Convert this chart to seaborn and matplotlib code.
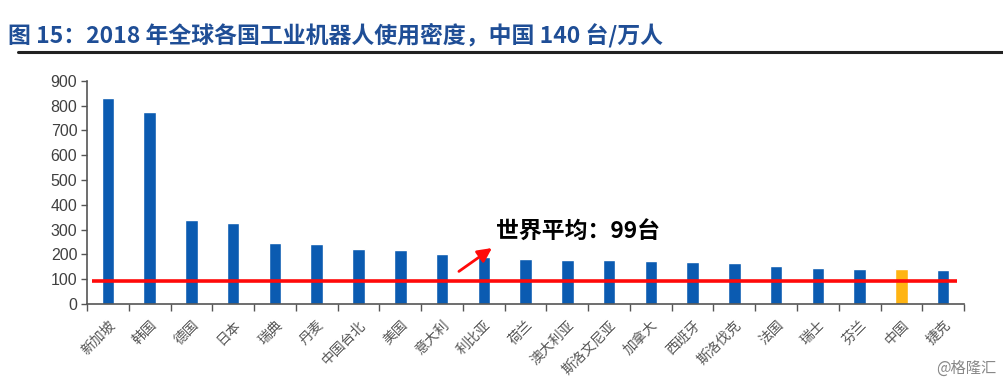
import matplotlib
matplotlib.use("Agg")
import matplotlib.pyplot as plt
import seaborn as sns
import pandas as pd
from matplotlib.ticker import FixedLocator, NullFormatter

# data (robots per 10k workers, 2018)
countries = ['新加坡', '韩国', '德国', '日本', '瑞典', '丹麦', '中国台北', '美国', '意大利',
             '利比亚', '荷兰', '澳大利亚', '斯洛文尼亚', '加拿大', '西班牙', '斯洛伐克',
             '法国', '瑞士', '芬兰', '中国', '捷克']
density = [831, 774, 338, 327, 247, 243, 221, 217, 200, 188, 183, 177, 176, 173,
           169, 166, 154, 147, 141, 140, 137]
highlight = '中国'
world_avg_line = 93

df = pd.DataFrame({'国家': countries, '密度': density})
df['组'] = ['高亮' if c == highlight else '其他' for c in countries]

sns.set_theme(style='white')
plt.rcParams['font.family'] = ['Noto Sans CJK SC', 'DejaVu Sans']

fig = plt.figure(figsize=(10.04, 3.84), dpi=100)
ax = fig.add_axes([0.0867, 0.2083, 0.8735, 0.5815])

sns.barplot(data=df, x='国家', y='密度', hue='组', dodge=False,
            palette={'其他': '#0B5BB1', '高亮': '#FFB412'}, saturation=1,
            width=0.3, legend=False, ax=ax)

ax.set_xlim(-0.5, len(countries) - 0.5)
ax.set_ylim(0, 900)
ax.set_yticks(range(0, 901, 100))
ax.set_xlabel('')
ax.set_ylabel('')

# world average line
ax.plot([-0.38, len(countries) - 0.67], [world_avg_line, world_avg_line],
        color='#FF0A0A', lw=2.6, zorder=5, solid_capstyle='butt')

# spines / ticks
for s in ['top', 'right']:
    ax.spines[s].set_visible(False)
for s in ['left', 'bottom']:
    ax.spines[s].set_color('#555555')
    ax.spines[s].set_linewidth(1.2)

ax.tick_params(axis='y', which='major', left=True, length=4, width=1,
               color='#555555', labelsize=11.5, labelcolor='#404040', pad=3)
for t in ax.get_yticklabels():
    t.set_family(['Liberation Sans', 'DejaVu Sans'])
ax.tick_params(axis='x', which='major', bottom=False, labelsize=10,
               labelcolor='#555555', pad=4)
ax.xaxis.set_minor_locator(FixedLocator([i - 0.5 for i in range(len(countries) + 1)]))
ax.xaxis.set_minor_formatter(NullFormatter())
ax.tick_params(axis='x', which='minor', bottom=True, length=5, width=1, color='#555555')
plt.setp(ax.get_xticklabels(), rotation=45, ha='right', rotation_mode='anchor')

# annotation
ax.annotate('', xy=(9.25, 232), xytext=(8.35, 125),
            arrowprops=dict(arrowstyle='-|>,head_length=0.7,head_width=0.35',
                            color='#FF0A0A', lw=2))
ax.text(9.3, 288, '世界平均：99台', fontsize=16.5, fontweight='bold',
        color='black', ha='left', va='center')

# title and rule
fig.text(0.008, 0.908, '图 15：2018 年全球各国工业机器人使用密度，中国 140 台/万人',
         fontsize=16.5, fontweight='bold', color='#1F4E96', ha='left', va='center')
fig.add_artist(plt.Line2D([0.018, 1.0], [0.865, 0.865], color='#222222', lw=2.2))

# watermark
fig.text(0.992, 0.04, '@格隆汇', fontsize=11, color='#888888', ha='right', va='center')

fig.savefig('out.png', dpi=100, facecolor='white')
